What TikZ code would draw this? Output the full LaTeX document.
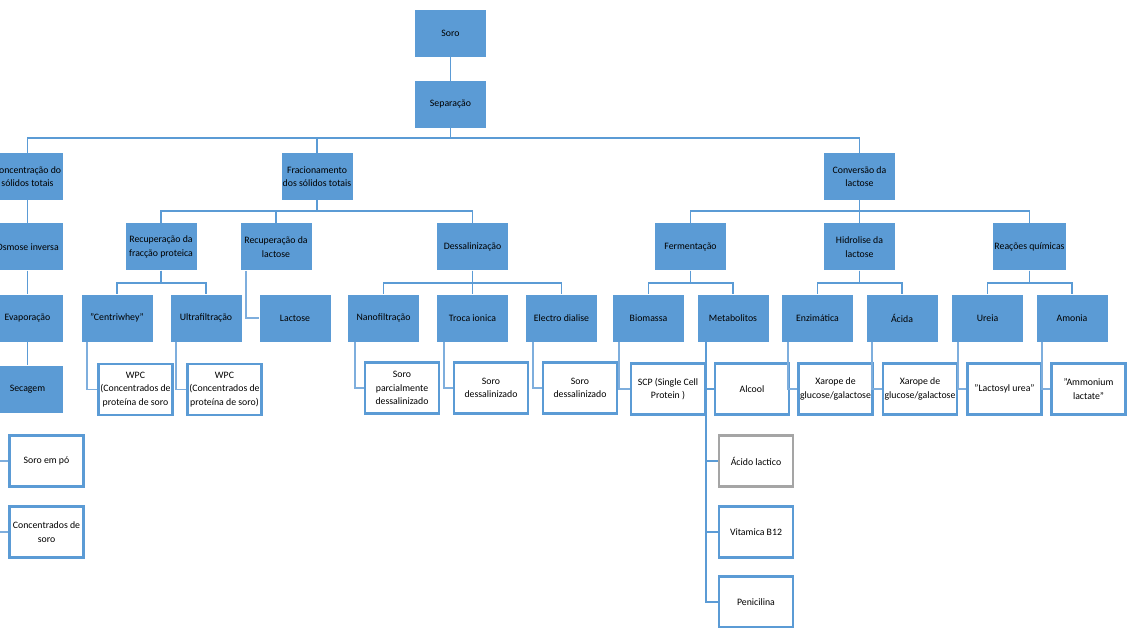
\documentclass[tikz,border=0pt]{standalone}
\usepackage{fontspec}
\setmainfont{Carlito}
\usepackage{xcolor}
\definecolor{boxblue}{HTML}{5B9BD5}
\definecolor{linkblue}{HTML}{5B9BD5}
\definecolor{hangblue}{HTML}{7EAEDD}
\definecolor{softgray}{HTML}{A5A5A5}
\usepackage{tikz}
\usetikzlibrary{positioning}

\tikzset{
  bluebox/.style={fill=boxblue, draw=none, minimum width=71pt, minimum height=47pt,
    inner sep=1pt, align=center, font=\fontsize{9.8}{13.5}\selectfont},
  whitebox/.style={fill=white, draw=boxblue, line width=2.2pt, minimum width=74pt,
    minimum height=51pt, inner sep=1pt, align=center, font=\fontsize{9.8}{13.5}\selectfont},
  link/.style={draw=linkblue, line width=1.8pt},
  hang/.style={draw=hangblue, line width=1.8pt}
}

\begin{document}
\begin{tikzpicture}[x=1pt, y=-1pt]
  \useasboundingbox (0,0) rectangle (1148,628);
  \clip (0,0) rectangle (1148,628);

  % top of the tree
  \node[bluebox] (soro) at (450.5,33.5) {Soro};
  \node[bluebox] (sep) at (450.5,104.5) {Separação};

  % three main branches
  \node[bluebox] (conc) at (27.5,176.5) {Concentração do\\sólidos totais};
  \node[bluebox] (frac) at (317,176.5) {Fracionamento\\dos sólidos totais};
  \node[bluebox] (conv) at (859.5,176.5) {Conversão da\\lactose};

  % second level
  \node[bluebox] (osm) at (27.5,247) {Osmose inversa};
  \node[bluebox] (recp) at (161,247) {Recuperação da\\fracção proteica};
  \node[bluebox] (recl) at (276,247) {Recuperação da\\lactose};
  \node[bluebox] (dess) at (472.5,247) {Dessalinização};
  \node[bluebox] (ferm) at (690.5,247) {Fermentação};
  \node[bluebox] (hidr) at (859.5,247) {Hidrolise da\\lactose};
  \node[bluebox] (reac) at (1029.5,247) {Reações químicas};

  % third level
  \node[bluebox] (evap) at (27.5,318) {Evaporação};
  \node[bluebox] (centri) at (117,318) {"Centriwhey"};
  \node[bluebox] (ultra) at (206,318) {Ultrafiltração};
  \node[bluebox] (lact) at (295,318) {Lactose};
  \node[bluebox] (nano) at (383.5,318) {Nanofiltração};
  \node[bluebox] (troca) at (472.5,318) {Troca ionica};
  \node[bluebox] (electro) at (561.5,318) {Electro dialise};
  \node[bluebox] (bio) at (648.5,318) {Biomassa};
  \node[bluebox] (meta) at (733,318) {Metabolitos};
  \node[bluebox] (enz) at (817.5,318) {Enzimática};
  \node[bluebox] (acida) at (902,318) {Ácida};
  \node[bluebox] (ureia) at (987.5,318) {Ureia};
  \node[bluebox] (amon) at (1072,318) {Amonia};
  \node[bluebox] (sec) at (27.5,389) {Secagem};

  % products
  \node[whitebox] (wpca) at (135.5,389.5) {WPC\\(Concentrados de\\proteína de soro};
  \node[whitebox] (wpcb) at (224.5,389.5) {WPC\\(Concentrados de\\proteína de soro)};
  \node[whitebox] (spd) at (402,388) {Soro\\parcialmente\\dessalinizado};
  \node[whitebox] (sda) at (491,388) {Soro\\dessalinizado};
  \node[whitebox] (sdb) at (580,388) {Soro\\dessalinizado};
  \node[whitebox] (scp) at (668,389) {SCP (Single Cell\\Protein )};
  \node[whitebox] (alcool) at (752,389) {Alcool};
  \node[whitebox, draw=softgray] (acidol) at (756,461) {Ácido lactico};
  \node[whitebox] (vitb) at (756,532) {Vitamica B12};
  \node[whitebox] (penic) at (756,602) {Penicilina};
  \node[whitebox] (xara) at (835.5,389) {Xarope de\\glucose/galactose};
  \node[whitebox] (xarb) at (920,389) {Xarope de\\glucose/galactose};
  \node[whitebox] (lurea) at (1004.5,389) {"Lactosyl urea"};
  \node[whitebox] (amlac) at (1088.5,389) {"Ammonium\\lactate"};
  \node[whitebox] (soropo) at (46.5,461) {Soro em pó};
  \node[whitebox] (concsoro) at (46.5,532) {Concentrados de\\soro};

  % tree links
  \draw[link] (soro) -- (sep);
  \foreach \child in {conc,frac,conv}
    \draw[link] (sep.south) -- ++(0,10) -| (\child.north);
  \draw[link] (conc) -- (osm);
  \draw[link] (osm) -- (evap);
  \draw[link] (evap) -- (sec);
  \foreach \child in {recp,recl,dess}
    \draw[link] (frac.south) -- ++(0,11) -| (\child.north);
  \foreach \child in {ferm,hidr,reac}
    \draw[link] (conv.south) -- ++(0,11) -| (\child.north);
  \foreach \child in {centri,ultra}
    \draw[link] (recp.south) -- ++(0,12) -| (\child.north);
  \foreach \child in {nano,troca,electro}
    \draw[link] (dess.south) -- ++(0,12) -| (\child.north);
  \foreach \child in {bio,meta}
    \draw[link] (ferm.south) -- ++(0,12) -| (\child.north);
  \foreach \child in {enz,acida}
    \draw[link] (hidr.south) -- ++(0,12) -| (\child.north);
  \foreach \child in {ureia,amon}
    \draw[link] (reac.south) -- ++(0,12) -| (\child.north);

  % hanging children
  \draw[hang] ([xshift=6pt]recl.south west) |- (lact.west);
  \draw[hang] ([xshift=6pt]centri.south west) |- (wpca.west);
  \draw[hang] ([xshift=6pt]ultra.south west) |- (wpcb.west);
  \draw[hang] ([xshift=7pt]nano.south west) |- (spd.west);
  \draw[hang] ([xshift=7pt]troca.south west) |- (sda.west);
  \draw[hang] ([xshift=7pt]electro.south west) |- (sdb.west);
  \draw[hang] ([xshift=6pt]bio.south west) |- (scp.west);
  \foreach \child in {alcool,acidol,vitb,penic}
    \draw[link] ([xshift=9pt]meta.south west) |- (\child.west);
  \draw[hang] ([xshift=6pt]enz.south west) |- (xara.west);
  \draw[hang] ([xshift=6pt]acida.south west) |- (xarb.west);
  \draw[hang] ([xshift=6pt]ureia.south west) |- (lurea.west);
  \draw[hang] ([xshift=6pt]amon.south west) |- (amlac.west);
  \foreach \child in {soropo,concsoro}
    \draw[hang] ([xshift=6pt]sec.south west) |- (\child.west);
\end{tikzpicture}
\end{document}
